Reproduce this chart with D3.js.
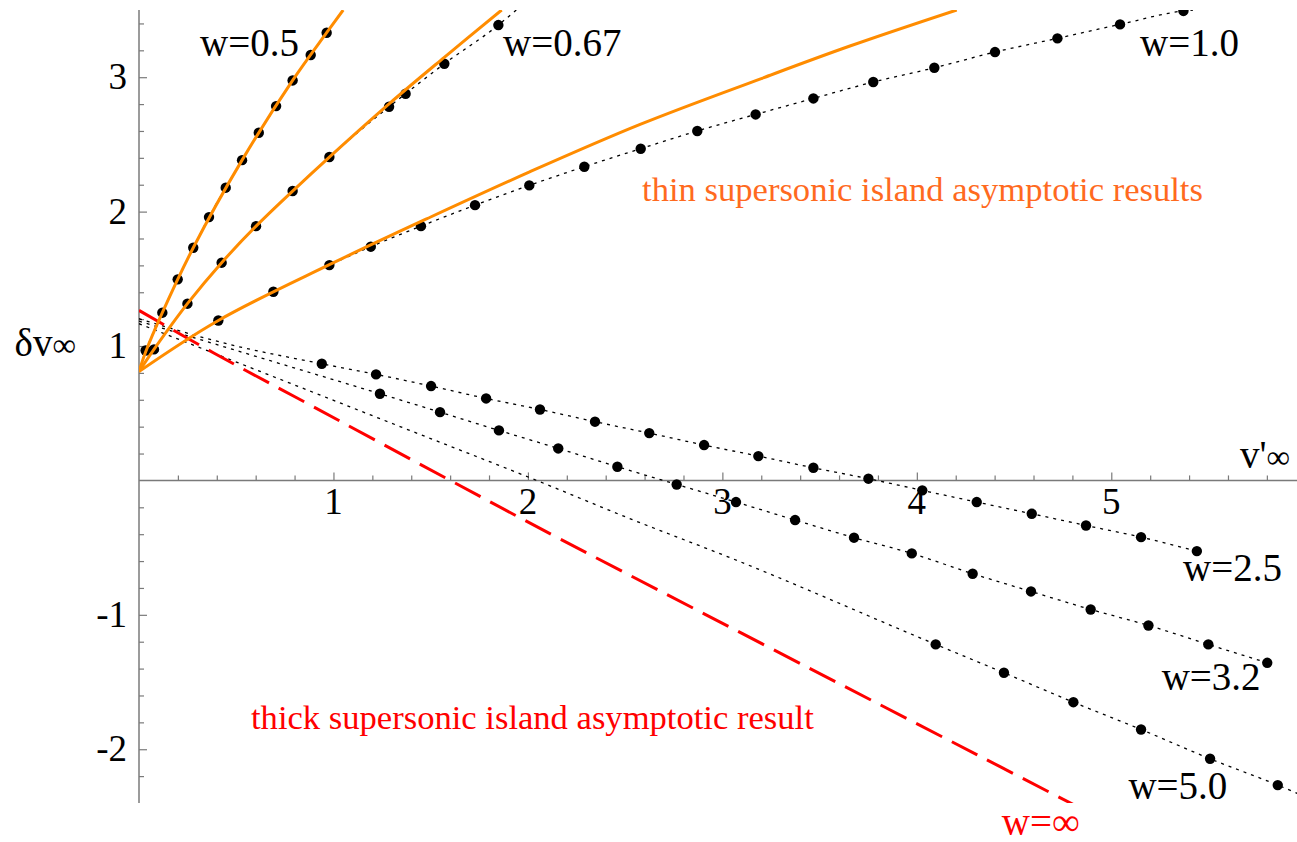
<!DOCTYPE html>
<html><head><meta charset="utf-8">
<script src="https://cdn.jsdelivr.net/npm/d3@7/dist/d3.min.js"></script>
<style>html,body{margin:0;padding:0;background:#fff} svg{display:block}</style>
</head><body>
<svg id="chart" width="1297" height="842"></svg>
<script>
// ---------- data ----------
const xTickValues = [1, 2, 3, 4, 5];
const yTickValues = [-2, -1, 1, 2, 3];
const xTickLabels = ["1", "2", "3", "4", "5"];
const yTickLabels = ["-2", "-1", "1", "2", "3"];
const xMinorTicks = [0.2,0.4,0.6,0.8,1.2,1.4,1.6,1.8,2.2,2.4,2.6,2.8,3.2,3.4,3.6,3.8,4.2,4.4,4.6,4.8,5.2,5.4,5.6,5.8];
const yMinorTicks = [-2.2,-1.8,-1.6,-1.4,-1.2,-0.8,-0.6,-0.4,-0.2,0.2,0.4,0.6,0.8,1.2,1.4,1.6,1.8,2.2,2.4,2.6,2.8,3.2,3.4];

// numerical results (dots)
const w05X  = [0.034,0.12,0.199,0.279,0.36,0.446,0.53,0.616,0.705,0.79,0.883,0.965];
const w05Y  = [0.967,1.248,1.496,1.731,1.959,2.178,2.383,2.587,2.785,2.976,3.165,3.331];
const w067X = [0.077,0.249,0.425,0.602,0.79,0.979,1.286,1.371,1.57,1.848];
const w067Y = [0.975,1.315,1.62,1.892,2.153,2.406,2.78,2.877,3.1,3.388];
const w10X  = [0.408,0.691,0.979,1.192,1.45,1.728,2.007,2.29,2.58,2.871,3.171,3.468,3.776,4.09,4.402,4.723,5.045,5.371];
const w10Y  = [1.19,1.404,1.602,1.739,1.892,2.048,2.195,2.334,2.468,2.6,2.723,2.842,2.964,3.07,3.187,3.289,3.393,3.493];
const w25X  = [0.94,1.219,1.502,1.785,2.062,2.345,2.624,2.906,3.185,3.468,3.751,4.028,4.308,4.591,4.87,5.153,5.44];
const w25Y  = [0.868,0.789,0.702,0.61,0.528,0.437,0.352,0.263,0.181,0.094,0.013,-0.074,-0.161,-0.248,-0.335,-0.422,-0.526];
const w32X  = [1.239,1.548,1.851,2.156,2.46,2.765,3.07,3.374,3.677,3.974,4.287,4.587,4.894,5.191,5.499,5.802];
const w32Y  = [0.645,0.508,0.372,0.238,0.102,-0.03,-0.161,-0.295,-0.426,-0.543,-0.694,-0.826,-0.96,-1.079,-1.22,-1.357];
const w50X  = [4.097,4.448,4.805,5.153,5.508,5.856];
const w50Y  = [-1.22,-1.431,-1.65,-1.853,-2.071,-2.267];

// dotted interpolation curves (numerical)
const d05X  = [0.034,0.12,0.199,0.279,0.36,0.446,0.53,0.616,0.705,0.79,0.883,0.965];
const d05Y  = [0.967,1.248,1.496,1.731,1.959,2.178,2.383,2.587,2.785,2.976,3.165,3.331];
const d067X = [0.077,0.249,0.425,0.602,0.79,0.979,1.286,1.371,1.57,1.848,1.94];
const d067Y = [0.975,1.315,1.62,1.892,2.153,2.406,2.78,2.877,3.1,3.388,3.5];
const d10X  = [0.408,0.691,0.979,1.192,1.45,1.728,2.007,2.29,2.58,2.871,3.171,3.468,3.776,4.09,4.402,4.723,5.045,5.371,5.42];
const d10Y  = [1.19,1.404,1.602,1.739,1.892,2.048,2.195,2.334,2.468,2.6,2.723,2.842,2.964,3.07,3.187,3.289,3.393,3.493,3.5];
const d25X  = [0,0.47,0.94,1.219,1.502,1.785,2.062,2.345,2.624,2.906,3.185,3.468,3.751,4.028,4.308,4.591,4.87,5.153,5.44];
const d25Y  = [1.203,1.01,0.868,0.789,0.702,0.61,0.528,0.437,0.352,0.263,0.181,0.094,0.013,-0.074,-0.161,-0.248,-0.335,-0.422,-0.526];
const d32X  = [0,0.64,1.239,1.548,1.851,2.156,2.46,2.765,3.07,3.374,3.677,3.974,4.287,4.587,4.894,5.191,5.499,5.802];
const d32Y  = [1.185,0.906,0.645,0.508,0.372,0.238,0.102,-0.03,-0.161,-0.295,-0.426,-0.543,-0.694,-0.826,-0.96,-1.079,-1.22,-1.357];
const d50X  = [0,1.342,2.045,2.534,3.04,4.097,4.448,4.805,5.153,5.508,5.856,5.96];
const d50Y  = [1.166,0.401,0,-0.29,-0.575,-1.22,-1.431,-1.65,-1.853,-2.071,-2.267,-2.33];

// thin supersonic island asymptotic results (orange)
const t05X  = [0,0.034,0.12,0.279,0.53,0.79,0.965,1.05];
const t05Y  = [0.81,0.955,1.248,1.731,2.383,2.976,3.331,3.5];
const t067X = [0,0.077,0.249,0.425,0.602,0.79,0.979,1.286,1.57,1.865];
const t067Y = [0.81,0.975,1.315,1.62,1.892,2.153,2.406,2.802,3.148,3.5];
const t10X  = [0,0.408,0.979,1.5,2.0,2.577,3.2,3.656,4.205];
const t10Y  = [0.81,1.19,1.605,1.96,2.29,2.649,2.99,3.232,3.5];

// thick supersonic island asymptotic result (red dashed, w = infinity)
const thickX = [0,0.382,0.811,1.575,2.165,4.308,4.85];
const thickY = [1.265,0.95,0.615,0.02,-0.435,-2.04,-2.445];

// ---------- layout ----------
const xDomain = [0, 5.955], yDomain = [-2.4, 3.5];
const x = d3.scaleLinear().domain(xDomain).range([139, 1297]);
const y = d3.scaleLinear().domain(yDomain).range([803, 10]);

const svg = d3.select("#chart");
const FONT = "'Liberation Serif','Times New Roman',Times,serif";
const ORANGE = "#ff8c00", ORANGE_TXT = "#ff6a1e", RED = "#ff0000";

svg.append("defs").append("clipPath").attr("id","plotclip")
  .append("rect").attr("x", x(0)).attr("y", y(3.5))
  .attr("width", x(xDomain[1]) - x(0)).attr("height", y(-2.4) - y(3.5));

// axes
const axisColor = "#7a7a7a";
const gx = svg.append("g").attr("transform", `translate(0,${y(0)})`);
gx.call(d3.axisTop(x).tickValues(xTickValues).tickSize(8).tickFormat(""));
gx.append("g").call(d3.axisTop(x).tickValues(xMinorTicks).tickSize(5).tickFormat(""));
gx.selectAll(".domain").remove();
gx.append("line").attr("x1", x(0)).attr("x2", x(xDomain[1])).attr("stroke", axisColor).attr("stroke-width", 1.5);
gx.selectAll(".tick line").attr("stroke", axisColor).attr("stroke-width", 1.2);

const gy = svg.append("g").attr("transform", `translate(${x(0)},0)`);
gy.call(d3.axisRight(y).tickValues(yTickValues).tickSize(8).tickFormat(""));
gy.append("g").call(d3.axisRight(y).tickValues(yMinorTicks).tickSize(5).tickFormat(""));
gy.selectAll(".domain").remove();
gy.append("line").attr("y1", y(3.5)).attr("y2", y(-2.4)).attr("stroke", axisColor).attr("stroke-width", 1.5);
gy.selectAll(".tick line").attr("stroke", axisColor).attr("stroke-width", 1.2);

// tick labels
svg.append("g").selectAll("text").data(xTickValues).join("text")
  .attr("x", d => x(d)).attr("y", y(0) + 34)
  .attr("text-anchor", "middle").attr("font-family", FONT).attr("font-size", 37)
  .text((d,i) => xTickLabels[i]);
svg.append("g").selectAll("text").data(yTickValues).join("text")
  .attr("x", x(0) - 12).attr("y", d => y(d) + 12)
  .attr("text-anchor", "end").attr("font-family", FONT).attr("font-size", 37)
  .text((d,i) => yTickLabels[i]);

// plot content
const plot = svg.append("g").attr("clip-path", "url(#plotclip)");
const zip = (xs, ys) => xs.map((v, i) => [v, ys[i]]);
const line = d3.line().x(d => x(d[0])).y(d => y(d[1])).curve(d3.curveMonotoneX);
const smooth = d3.line().x(d => x(d[0])).y(d => y(d[1])).curve(d3.curveCatmullRom.alpha(0.5));

const dotted = [[d05X,d05Y],[d067X,d067Y],[d10X,d10Y],[d25X,d25Y],[d32X,d32Y],[d50X,d50Y]];
plot.append("g").selectAll("path").data(dotted).join("path")
  .attr("d", d => line(zip(d[0], d[1])))
  .attr("fill", "none").attr("stroke", "#000").attr("stroke-width", 1.3)
  .attr("stroke-dasharray", "3,5");

plot.append("path").attr("d", smooth(zip(thickX, thickY)))
  .attr("fill", "none").attr("stroke", RED).attr("stroke-width", 3)
  .attr("stroke-dasharray", "29,11");

const dotSets = [[w05X,w05Y],[w067X,w067Y],[w10X,w10Y],[w25X,w25Y],[w32X,w32Y],[w50X,w50Y]];
dotSets.forEach(s => {
  plot.append("g").selectAll("circle").data(zip(s[0], s[1])).join("circle")
    .attr("cx", d => x(d[0])).attr("cy", d => y(d[1])).attr("r", 5.2).attr("fill", "#000");
});

const thin = [[t05X,t05Y],[t067X,t067Y],[t10X,t10Y]];
plot.append("g").selectAll("path").data(thin).join("path")
  .attr("d", d => smooth(zip(d[0], d[1])))
  .attr("fill", "none").attr("stroke", ORANGE).attr("stroke-width", 3);

// labels
const labels = [
  {t:"w=0.5",  x:0.314, y:3.155, c:"#000", s:39},
  {t:"w=0.67", x:1.872, y:3.155, c:"#000", s:39},
  {t:"w=1.0",  x:5.148, y:3.155, c:"#000", s:39},
  {t:"w=2.5",  x:5.369, y:-0.749, c:"#000", s:39},
  {t:"w=3.2",  x:5.259, y:-1.56, c:"#000", s:39},
  {t:"w=5.0",  x:5.088, y:-2.368, c:"#000", s:39},
  {t:"w=\u221E", x:4.437, y:-2.635, c:RED, s:39},
  {t:"thin supersonic island asymptotic results", x:2.587, y:2.078, c:ORANGE_TXT, s:34.6},
  {t:"thick supersonic island asymptotic result", x:0.576, y:-1.853, c:RED, s:34.6}
];
svg.append("g").selectAll("text").data(labels).join("text")
  .attr("x", d => x(d.x)).attr("y", d => y(d.y))
  .attr("font-family", FONT).attr("font-size", d => d.s).attr("fill", d => d.c)
  .text(d => d.t);

// axis titles
const yt = svg.append("text").attr("x", x(-0.64)).attr("y", y(0.923))
  .attr("font-family", FONT).attr("font-size", 39).attr("fill", "#000");
yt.append("tspan").text("\u03B4v");
yt.append("tspan").attr("font-size", 33).text("\u221E");
const xt = svg.append("text").attr("x", x(5.662)).attr("y", y(0.094))
  .attr("font-family", FONT).attr("font-size", 39).attr("fill", "#000");
xt.append("tspan").text("v'");
xt.append("tspan").attr("font-size", 33).text("\u221E");
</script>
</body></html>
